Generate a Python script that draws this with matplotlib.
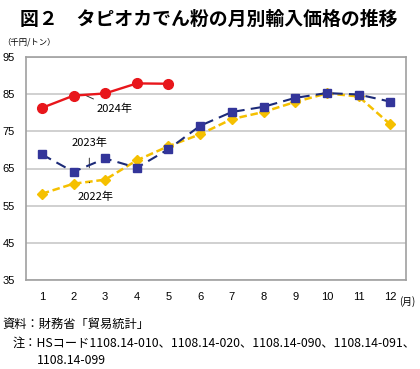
import numpy as np
import matplotlib.pyplot as plt

plt.rcParams['font.family'] = ['Noto Sans CJK JP', 'DejaVu Sans']

months = list(range(1, 13))
y2024 = [81.3, 84.6, 85.2, 87.9, 87.8]
y2023 = [68.8, 64.1, 67.7, 65.2, 70.2, 76.5, 80.2, 81.6, 84.0, 85.3, 84.9, 83.0]
y2022 = [58.2, 60.9, 62.0, 67.2, 71.0, 74.2, 78.3, 80.2, 82.9, 85.2, 84.4, 76.9]
yticks = [35, 45, 55, 65, 75, 85, 95]

W, H = 420, 369
fig = plt.figure(figsize=(W / 100, H / 100), dpi=100)
ax = fig.add_axes([26 / W, 1 - 280 / H, 380 / W, 223 / H])

ax.plot(months, y2022, color='#f5c000', lw=1.8, ls=(0, (3, 1.5)),
        marker='D', ms=5, mfc='#f5c000', mec='#f5c000', zorder=3)
ax.plot(months, y2023, color='#1c2a78', lw=1.5, ls=(0, (5, 3)),
        marker='s', ms=5.5, mfc='#33359a', mec='#33359a', zorder=4)
ax.plot(months[:len(y2024)], y2024, color='#e8161b', lw=1.7,
        marker='o', ms=7, mfc='#e8161b', mec='#e8161b', zorder=5)

ax.set_xlim(0.5, 12.5)
ax.set_ylim(35, 95)
ax.set_yticks(yticks)
ax.set_xticks(months)
ax.tick_params(length=0, labelsize=8)
ax.tick_params(axis='x', pad=9)
ax.tick_params(axis='y', pad=8)
for lab in ax.get_xticklabels() + ax.get_yticklabels():
    lab.set_family(['Liberation Sans', 'DejaVu Sans'])
ax.grid(axis='y', color='#c8c8c8', lw=1.2)
ax.set_axisbelow(True)
for s in ax.spines.values():
    s.set_color('#a0a0a0')
    s.set_linewidth(1.2)

# labels with leader lines
ax.annotate('2024年', xy=(2.35, 84.8), xytext=(3.3, 81.1), fontsize=8,
            ha='center', va='center',
            arrowprops=dict(arrowstyle='-', color='#333333', lw=0.7, shrinkA=3, shrinkB=0))
ax.annotate('2023年', xy=(2.5, 65.2), xytext=(2.5, 71.8), fontsize=8,
            ha='center', va='center',
            arrowprops=dict(arrowstyle='-', color='#333333', lw=0.7, shrinkA=5, shrinkB=0))
ax.annotate('2022年', xy=(2.5, 61.3), xytext=(2.7, 57.3), fontsize=8,
            ha='center', va='center',
            arrowprops=dict(arrowstyle='-', color='#333333', lw=0.7, shrinkA=5, shrinkB=0))

fig.text(20 / W, 1 - 19 / H, '図２　タピオカでん粉の月別輸入価格の推移',
         fontsize=13.6, fontweight='bold', va='center', ha='left')
fig.text(2 / W, 1 - 42 / H, '（千円/トン）', fontsize=6, va='center', ha='left')
fig.text(399 / W, 1 - 302 / H, '(月)', fontsize=7, va='center', ha='left')
fig.text(2 / W, 1 - 324 / H, '資料：財務省「貿易統計」', fontsize=8.8, va='center', ha='left')
fig.text(13 / W, 1 - 343 / H,
         '注：HSコード1108.14-010、1108.14-020、1108.14-090、1108.14-091、',
         fontsize=8.8, va='center', ha='left')
fig.text(37 / W, 1 - 361 / H, '1108.14-099', fontsize=8.8, va='center', ha='left')

fig.savefig('out.png', dpi=100)
